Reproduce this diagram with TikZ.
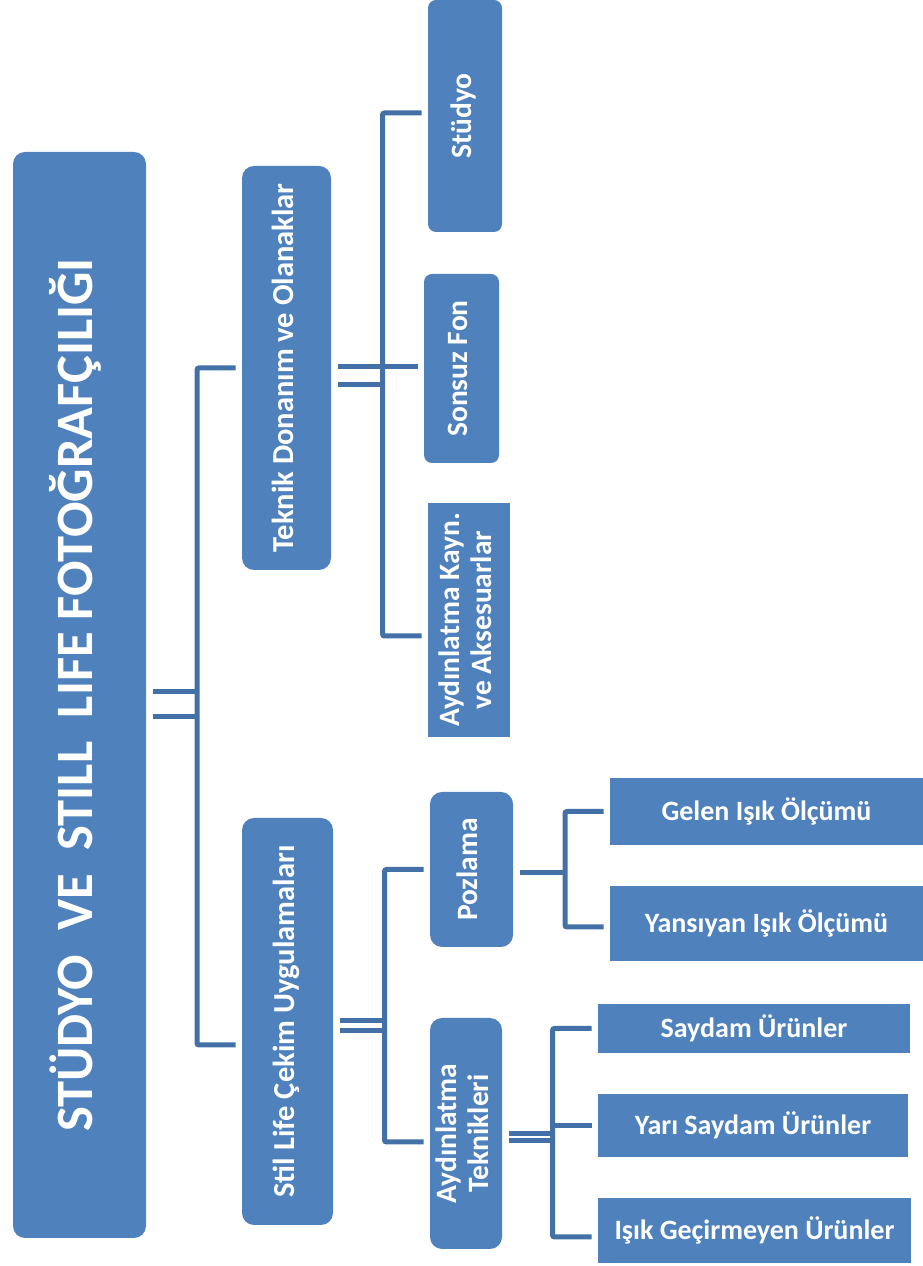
\documentclass[tikz,border=0pt]{standalone}
\usepackage{fontspec}
\setmainfont{Carlito}
\definecolor{boxblue}{HTML}{4F81BD}
\definecolor{lineblue}{HTML}{4470A8}
\newcommand{\uptext}[1]{\rotatebox{90}{\begin{tabular}{@{}c@{}}#1\end{tabular}}}
\begin{document}
\begin{tikzpicture}[x=1pt,y=1pt,font=\bfseries,
    box/.style={fill=boxblue, text=white, inner sep=0pt, outer sep=6.5pt, align=center},
    rbox/.style={box, rounded corners=12pt},
    conn/.style={draw=lineblue, line width=5pt, rounded corners=2pt},
    lvltwo/.style={font=\fontsize{30.5}{33}\bfseries},
    lvlthree/.style={font=\fontsize{29.5}{32}\bfseries},
    lvlfour/.style={font=\fontsize{28}{30}\bfseries}]
    \useasboundingbox (0,0) rectangle (923,1266);

    % --- BOXES ---
    % Root
    \node[rbox, minimum width=133, minimum height=1086, font=\fontsize{52.5}{55}\bfseries] (main) at (79.5,571)
        {\uptext{STÜDYO\ \ VE\ \ STILL\ \ LIFE FOTOĞRAFÇILIĞI}};

    % Level 2
    \node[rbox, lvltwo, minimum width=89, minimum height=404] (teknik) at (286.5,898)
        {\uptext{Teknik Donanım ve Olanaklar}};
    \node[rbox, lvltwo, minimum width=91, minimum height=407] (stil) at (287.5,244.5)
        {\uptext{Stil Life Çekim Uygulamaları}};

    % Level 3 (upper branch)
    \node[rbox, lvlthree, rounded corners=8pt, minimum width=74, minimum height=232] (studyo) at (465,1150)
        {\uptext{Stüdyo}};
    \node[rbox, lvlthree, rounded corners=8pt, minimum width=75, minimum height=189] (sonsuz) at (461.5,897.5)
        {\uptext{Sonsuz Fon}};
    \node[box, lvlthree, minimum width=82, minimum height=234] (aydkayn) at (469,646)
        {\uptext{Aydınlatma Kayn.\\ve Aksesuarlar}};

    % Level 3 (lower branch)
    \node[rbox, lvlthree, minimum width=83, minimum height=155] (pozlama) at (471.5,396.5)
        {\uptext{Pozlama}};
    \node[rbox, lvlthree, minimum width=72, minimum height=231] (aydtek) at (466,132.5)
        {\uptext{Aydınlatma\\Teknikleri}};

    % Level 4
    \node[box, lvlfour, minimum width=313, minimum height=67] (gelen) at (766.5,454.5) {Gelen Işık Ölçümü};
    \node[box, lvlfour, minimum width=313, minimum height=75] (yansiyan) at (766.5,342.5) {Yansıyan Işık Ölçümü};
    \node[box, lvlfour, minimum width=312, minimum height=49] (saydam) at (754,237.5) {Saydam Ürünler};
    \node[box, lvlfour, minimum width=310, minimum height=63] (yari) at (753,140.5) {Yarı Saydam Ürünler};
    \node[box, lvlfour, minimum width=313, minimum height=65] (isik) at (754.5,35.5) {Işık Geçirmeyen Ürünler};

    % --- CONNECTORS ---
    % root -> level 2
    \coordinate (j1) at (197,574);
    \coordinate (j1b) at (197,549);
    \draw[conn] (main.east |- j1) -- (j1);
    \draw[conn] (main.east |- j1b) -- (j1b);
    \draw[conn] (teknik.west) -| (j1) |- ([yshift=-23.5pt]stil.west);

    % teknik -> upper level 3
    \coordinate (j2) at (382.5,899);
    \coordinate (j2b) at (382.5,881);
    \draw[conn] (teknik.east |- j2) -- (j2);
    \draw[conn] (teknik.east |- j2b) -- (j2b);
    \draw[conn] ([yshift=3pt]studyo.west) -| (j2) |- ([yshift=-16pt]aydkayn.west);
    \draw[conn] (j2) -- (sonsuz.west |- j2);

    % stil -> lower level 3
    \coordinate (j3) at (384.5,245.5);
    \coordinate (j3b) at (384.5,235);
    \draw[conn] (stil.east |- j3) -- (j3);
    \draw[conn] (stil.east |- j3b) -- (j3b);
    \draw[conn] (pozlama.west) -| (j3) |- ([yshift=-8.5pt]aydtek.west);

    % pozlama -> level 4
    \coordinate (j4) at (565,393);
    \draw[conn] (pozlama.east |- j4) -- (j4);
    \draw[conn] (gelen.west) -| (j4) |- ([yshift=-3.5pt]yansiyan.west);

    % aydtek -> level 4
    \coordinate (j5) at (552.5,132);
    \coordinate (j5b) at (552.5,125.5);
    \draw[conn] (aydtek.east |- j5) -- (j5);
    \draw[conn] (aydtek.east |- j5b) -- (j5b);
    \draw[conn] (saydam.west) -| (j5) |- ([yshift=-6.5pt]isik.west);
    \draw[conn] (j5 |- yari.west) -- (yari.west);
\end{tikzpicture}
\end{document}
